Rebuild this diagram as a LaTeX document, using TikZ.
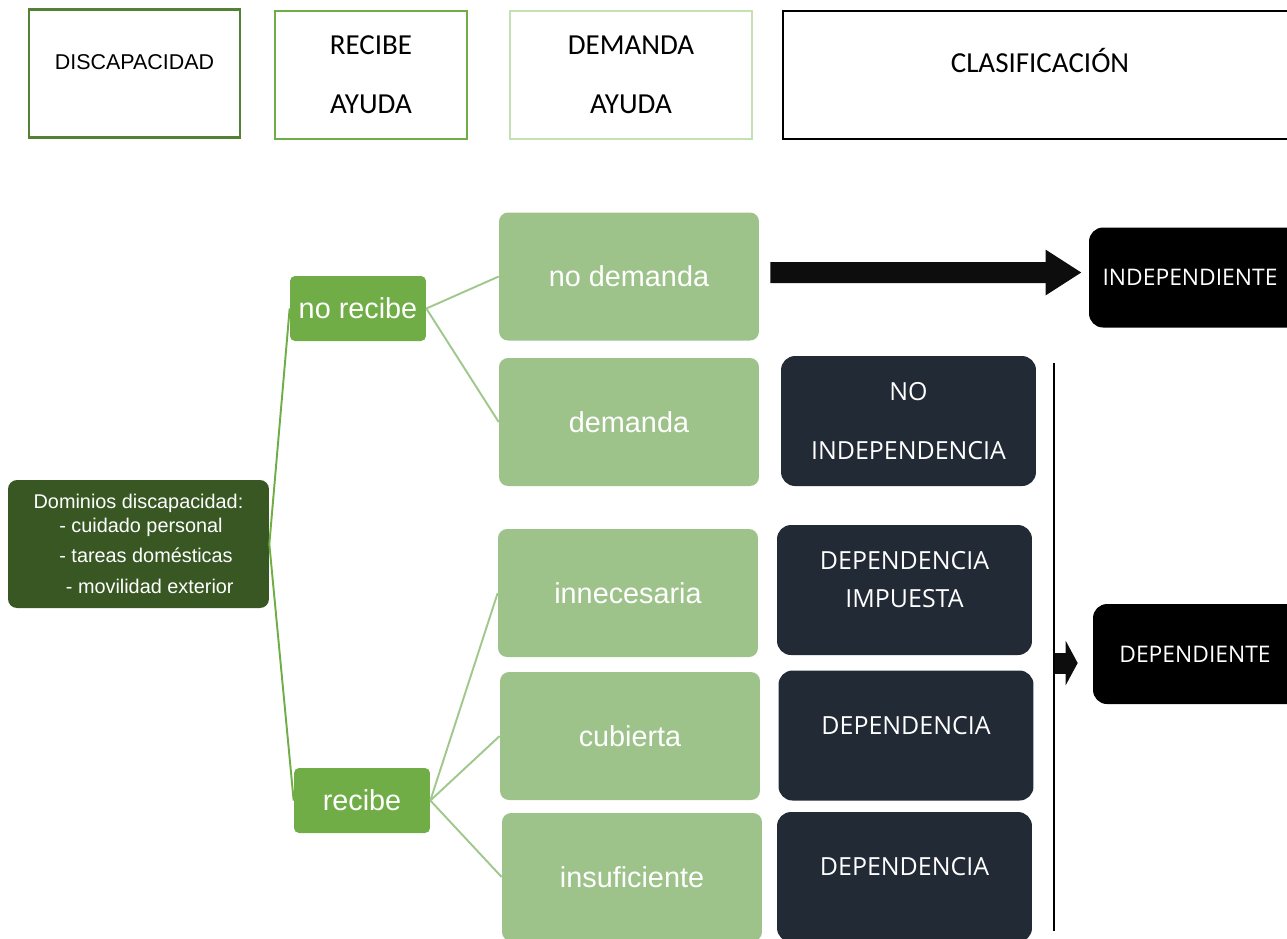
\documentclass[tikz,border=0pt]{standalone}
\usepackage{fontspec}
\setmainfont{Liberation Sans}
\newfontfamily\calibri{Carlito}
\newfontfamily\segoe{Open Sans}
\usetikzlibrary{arrows.meta, positioning}
\definecolor{darkgr}{RGB}{56,87,35}
\definecolor{midgr}{RGB}{112,173,71}
\definecolor{lightgr}{RGB}{157,195,138}
\definecolor{palegr}{RGB}{197,224,180}
\definecolor{hdrgr}{RGB}{84,130,53}
\definecolor{navy}{RGB}{34,42,53}
\definecolor{linegr}{RGB}{160,200,140}

\begin{document}
\begin{tikzpicture}[x=0.02cm, y=-0.02cm,
    hdrbox/.style={draw, line width=1.2pt, minimum height=2.56cm, align=center, inner sep=0pt},
    hdrtxt/.style={font=\calibri\fontsize{16.5}{33.5}\selectfont},
    answer/.style={fill=lightgr, rounded corners=0.18cm, minimum width=5.2cm, minimum height=2.56cm, text=white, font=\fontsize{16.4}{20}\selectfont},
    branch/.style={fill=midgr, rounded corners=0.1cm, minimum width=2.72cm, minimum height=1.3cm, text=white, font=\fontsize{16.4}{20}\selectfont},
    result/.style={fill=navy, rounded corners=0.28cm, minimum width=5.1cm, minimum height=2.6cm, text=white, align=center},
    final/.style={fill=black, rounded corners=0.28cm, minimum height=2cm, text=white, font=\segoe\fontsize{13}{16}\selectfont},
    link/.style={line width=1.1pt, draw=linegr},
    lift/.style={text depth=#1}
]
\useasboundingbox (0,0) rectangle (1287,938);

% headers
\node[hdrbox, draw=hdrgr, minimum width=4.22cm, lift=13pt, font=\fontsize{12.2}{15}\selectfont] (hDis) at (134.5,73.5) {DISCAPACIDAD};
\node[hdrbox, draw=midgr, minimum width=3.84cm, hdrtxt] (hRec) at (371,75) {RECIBE\\AYUDA};
\node[hdrbox, draw=palegr, minimum width=4.84cm, hdrtxt] (hDem) at (631,75) {DEMANDA\\AYUDA};
\node[hdrbox, draw=black, minimum width=10.28cm, hdrtxt, lift=17pt] (hCla) at (1040,75) {CLASIFICACIÓN};

% start
\node[fill=darkgr, rounded corners=0.18cm, minimum width=5.22cm, minimum height=2.56cm, text=white, align=center, font=\fontsize{11.3}{13.5}\selectfont] (dom) at (138.5,544)
  {Dominios discapacidad:\\\hspace*{0.1cm}- cuidado personal\\[4pt]\hspace*{0.3cm}- tareas domésticas\\[4pt]\hspace*{0.45cm}- movilidad exterior};

% receives help?
\node[branch] (noRec) at (358,308.5) {no recibe};
\node[branch] (rec) at (362,800.5) {recibe};

% demand
\node[answer] (noDem) at (629,276.5) {no demanda};
\node[answer] (dem) at (629,422) {demanda};
\node[answer] (innec) at (628,593) {innecesaria};
\node[answer] (cubi) at (630,736) {cubierta};
\node[answer] (insuf) at (632,877) {insuficiente};

% classification
\node[result, font=\segoe\fontsize{14.2}{33.5}\selectfont] (noInd) at (908.5,421) {NO\\INDEPENDENCIA};
\node[result, font=\segoe\fontsize{14.2}{22}\selectfont, lift=12pt] (depImp) at (904.5,590) {DEPENDENCIA\\IMPUESTA};
\node[result, font=\segoe\fontsize{14.2}{17}\selectfont, lift=12pt] (depCub) at (906,735.5) {DEPENDENCIA};
\node[result, font=\segoe\fontsize{14.2}{17}\selectfont, lift=12pt] (depIns) at (904.5,877) {DEPENDENCIA};

\node[final, minimum width=4.42cm] (indep) at (1199.5,277.5) {INDEPENDIENTE\hspace*{0.38cm}};
\node[final, minimum width=4.34cm] (depen) at (1201.5,654) {DEPENDIENTE\hspace*{0.26cm}};

% connectors
\draw[link, draw=midgr] (dom.east) -- (noRec.west);
\draw[link, draw=midgr] (dom.east) -- (rec.west);
\draw[link] (noRec.east) -- (noDem.west);
\draw[link] (noRec.east) -- (dem.west);
\draw[link] (rec.east) -- (innec.west);
\draw[link] (rec.east) -- (cubi.west);
\draw[link] (rec.east) -- (insuf.west);

% arrows
\draw[line width=0.42cm, black!95, shorten <=0.22cm, shorten >=0.14cm, -{Triangle[length=0.72cm, width=0.86cm]}]
  ([yshift=0.08cm]noDem.east) -- ([yshift=0.1cm]indep.west);
\coordinate (barTop) at (1054,363);
\coordinate (barBot) at (1054,931);
\coordinate (barMid) at (1055,663);
\draw[line width=0.8pt] (barTop) -- (barBot);
\draw[line width=0.42cm, black!95, shorten >=0.3cm, -{Triangle[length=0.24cm, width=0.88cm]}]
  (barMid) -- (barMid -| depen.west);
\end{tikzpicture}
\end{document}
